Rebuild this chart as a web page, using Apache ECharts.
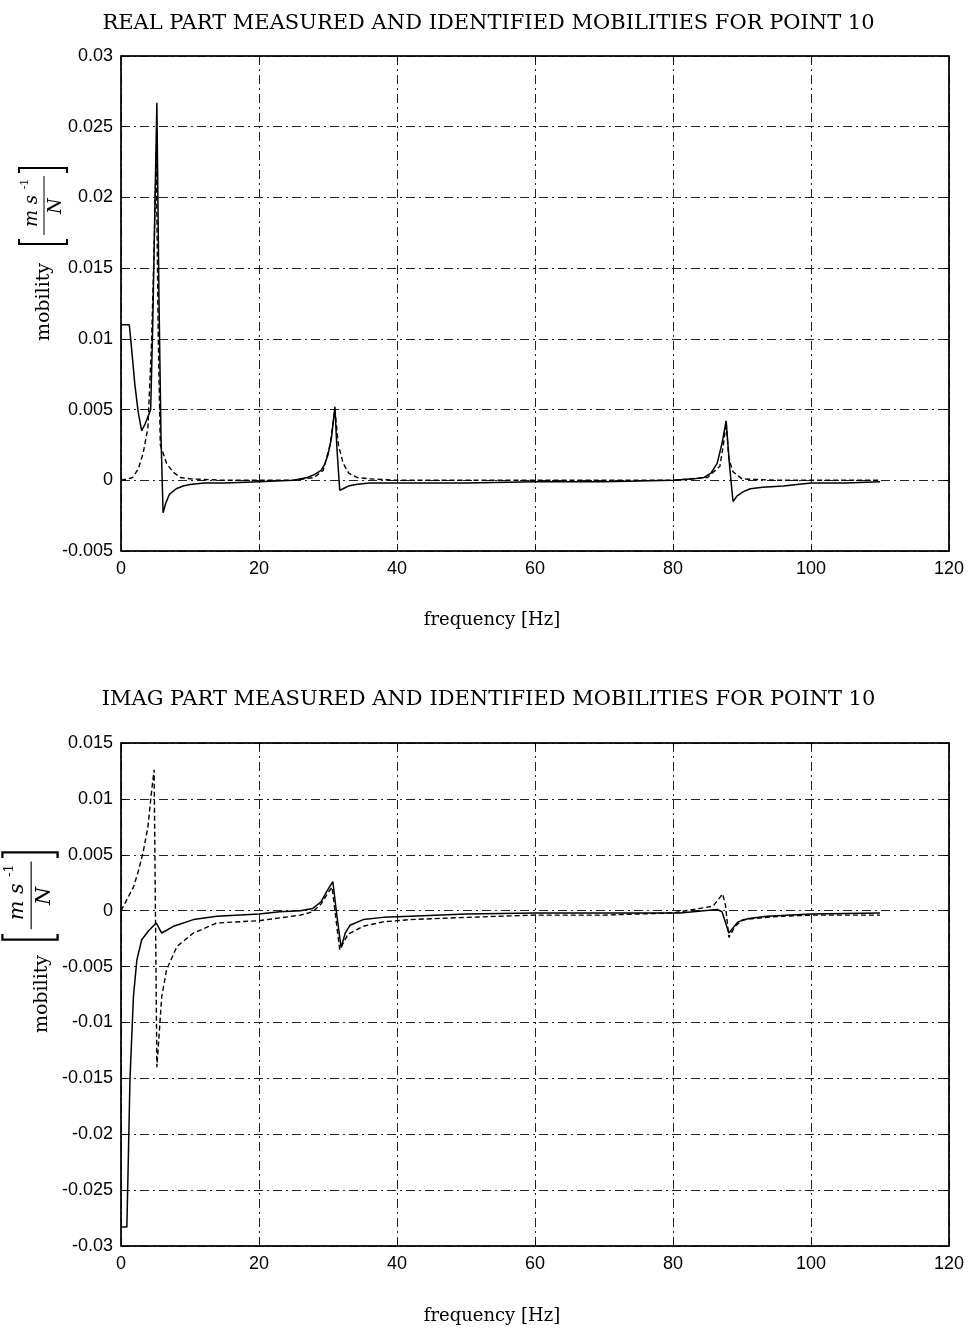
<!DOCTYPE html>
<html>
<head>
<meta charset="utf-8">
<script src="https://cdn.jsdelivr.net/npm/echarts@6/dist/echarts.min.js"></script>
<style>
  html, body { margin: 0; padding: 0; background: #fff; }
  #chart { width: 977px; height: 1332px; }
</style>
</head>
<body>
<div id="chart"></div>
<script>
// ---- data ----
const titleReal = "REAL PART MEASURED AND IDENTIFIED MOBILITIES FOR POINT 10";
const titleImag = "IMAG PART MEASURED AND IDENTIFIED MOBILITIES FOR POINT 10";
const xName = "frequency [Hz]";

// real part, measured (solid)
const realMeasFreq = [0, 0.2, 1.2, 1.5, 2.0, 2.5, 3.0, 3.5, 4.0, 4.3, 4.6, 4.9, 5.2, 5.5, 5.8, 6.1, 6.5, 7, 8, 9, 10, 12, 15, 20, 25, 27, 28, 29, 29.5, 30, 30.5, 31.0, 31.3, 31.7, 32.2, 33, 34, 36, 40, 50, 60, 70, 80, 83, 84.5, 85.5, 86.4, 87.1, 87.7, 88.2, 88.7, 89.3, 90.2, 91.2, 93, 96, 100, 105, 110];
const realMeas = [0.011, 0.011, 0.011, 0.0095, 0.0068, 0.0048, 0.0035, 0.0040, 0.0046, 0.0050, 0.0110, 0.0190, 0.0267, 0.0130, 0.0030, -0.0023, -0.0016, -0.0010, -0.0006, -0.0004, -0.0003, -0.0002, -0.0002, -0.0001, 0.0000, 0.0002, 0.0004, 0.0007, 0.0011, 0.0018, 0.0030, 0.0052, 0.0022, -0.0007, -0.0006, -0.0004, -0.0003, -0.0002, -0.0002, -0.0002, -0.0001, -0.0001, 0.0000, 0.0001, 0.0002, 0.0005, 0.0012, 0.0026, 0.0042, 0.0010, -0.0015, -0.0011, -0.0008, -0.0006, -0.0005, -0.0004, -0.0002, -0.0002, -0.0001];

// real part, identified (dashed)
const realIdFreq = [0, 1, 1.7, 2.5, 3.2, 3.9, 4.4, 4.8, 5.1, 5.4, 5.7, 6.6, 7.5, 8.6, 10, 15, 25, 28, 29.3, 30.3, 31.0, 31.5, 32.2, 33, 34.2, 36, 40, 80, 85, 86.8, 87.3, 87.7, 88.1, 88.7, 90, 95, 110];
const realId = [0, 0.0001, 0.0002, 0.0008, 0.0019, 0.0037, 0.0094, 0.0164, 0.0232, 0.0100, 0.0025, 0.0012, 0.0006, 0.0002, 0.0001, 0, 0, 0.0002, 0.0007, 0.0025, 0.0050, 0.0025, 0.0012, 0.0005, 0.0002, 0.0001, 0, 0, 0.0002, 0.0010, 0.0025, 0.0041, 0.0015, 0.0006, 0.0001, 0, 0];

// imaginary part, measured (solid)
const imagMeasFreq = [0, 0.85, 1.0, 1.3, 1.8, 2.3, 3.0, 4.0, 5.1, 5.9, 7.6, 10.5, 13.9, 20, 23, 26, 27.8, 29, 29.8, 30.7, 31.3, 31.9, 32.5, 33.2, 35.1, 38, 41.9, 50, 60, 70, 81, 86.4, 87.1, 88.1, 89.4, 91, 93.6, 100, 110];
const imagMeas = [-0.0283, -0.0283, -0.024, -0.0151, -0.0077, -0.0044, -0.0026, -0.0018, -0.0011, -0.0020, -0.0014, -0.0008, -0.0005, -0.0003, -0.0001, 0.0000, 0.0002, 0.0008, 0.0017, 0.0026, -0.0005, -0.0033, -0.0020, -0.0013, -0.0008, -0.0006, -0.0005, -0.0003, -0.0002, -0.0002, -0.0002, 0.0001, -0.0001, -0.0020, -0.0010, -0.0007, -0.0005, -0.0003, -0.0002];

// imaginary part, identified (dashed)
const imagIdFreq = [0, 1.8, 2.5, 3.2, 3.9, 4.4, 4.8, 5.2, 5.9, 6.6, 8.1, 10.5, 13.9, 20, 26, 27.8, 29, 30, 30.6, 31.1, 31.7, 32.9, 35.1, 38, 41.9, 50, 60, 70, 80, 85.8, 87.2, 87.6, 88.1, 89, 90.1, 95.5, 100, 110];
const imagId = [0, 0.0021, 0.0035, 0.0052, 0.0075, 0.0105, 0.0126, -0.0140, -0.0077, -0.0053, -0.0032, -0.0020, -0.0011, -0.0009, -0.0004, -0.0001, 0.0006, 0.0016, 0.0021, -0.0005, -0.0035, -0.0021, -0.0014, -0.0010, -0.0008, -0.0006, -0.0004, -0.0004, -0.0002, 0.0004, 0.0015, 0.0005, -0.0024, -0.0014, -0.0008, -0.0005, -0.0004, -0.0004];

const freqRange = [0, 120, 20];          // min, max, step
const realRange = [-0.005, 0.03, 0.005];
const imagRange = [-0.03, 0.015, 0.005];

const pairs = (xs, ys) => xs.map((x, i) => [x, ys[i]]);

const serif = '"DejaVu Serif", "Liberation Serif", serif';
const sans = '"Liberation Sans", Arial, sans-serif';
const gridDash = [9, 4, 2, 4];

function xAxes(gi) {
  return [
    {
      type: "value", gridIndex: gi, position: "bottom",
      min: freqRange[0], max: freqRange[1], interval: freqRange[2],
      axisLine: { onZero: false, lineStyle: { color: "#000", width: 1.5 } },
      axisTick: { inside: true, length: 5, lineStyle: { color: "#000" } },
      axisLabel: { fontFamily: sans, fontSize: 18, color: "#000", margin: 9 },
      splitLine: { show: true, lineStyle: { color: "#222", width: 1, type: gridDash } },
    },
    {
      type: "value", gridIndex: gi, position: "top",
      min: freqRange[0], max: freqRange[1], interval: freqRange[2],
      axisLine: { onZero: false, lineStyle: { color: "#000", width: 1.5 } },
      axisTick: { inside: true, length: 5, lineStyle: { color: "#000" } },
      axisLabel: { show: false },
      splitLine: { show: false },
    },
  ];
}

function yAxes(gi, r) {
  return [
    {
      type: "value", gridIndex: gi, position: "left",
      min: r[0], max: r[1], interval: r[2],
      axisLine: { onZero: false, lineStyle: { color: "#000", width: 1.5 } },
      axisTick: { inside: true, length: 5, lineStyle: { color: "#000" } },
      axisLabel: { fontFamily: sans, fontSize: 18, color: "#000", margin: 8 },
      splitLine: { show: true, lineStyle: { color: "#222", width: 1, type: gridDash } },
    },
    {
      type: "value", gridIndex: gi, position: "right",
      min: r[0], max: r[1], interval: r[2],
      axisLine: { onZero: false, lineStyle: { color: "#000", width: 1.5 } },
      axisTick: { inside: true, length: 5, lineStyle: { color: "#000" } },
      axisLabel: { show: false },
      splitLine: { show: false },
    },
  ];
}

function line(name, data, xi, yi, dashed) {
  return {
    name, type: "line", data, xAxisIndex: xi, yAxisIndex: yi,
    showSymbol: false, symbol: "none", clip: true,
    lineStyle: { color: "#000", width: dashed ? 1.4 : 1.5, type: dashed ? [5, 3] : "solid" },
  };
}

// rotated "mobility [m s^-1 / N]" label
function unitLabel(cx, cy, wx, wy, s) {
  const font = (sz, it) => (it ? "italic " : "") + sz + "px " + serif;
  return [
    {
      type: "text", x: wx, y: wy, rotation: Math.PI / 2,
      style: { text: "mobility", font: font(19), fill: "#000", align: "center", verticalAlign: "middle" },
    },
    {
      type: "group", x: cx, y: cy, rotation: Math.PI / 2, scaleX: s, scaleY: s,
      children: [
        { type: "text", x: -5, y: -11, style: { text: "m s", font: font(18, true), fill: "#000", align: "center", verticalAlign: "middle" } },
        { type: "text", x: 22, y: -18, style: { text: "-1", font: font(11), fill: "#000", align: "center", verticalAlign: "middle" } },
        { type: "line", shape: { x1: -29, y1: 1, x2: 30, y2: 1 }, style: { stroke: "#000", lineWidth: 1 } },
        { type: "text", x: 0, y: 13, style: { text: "N", font: font(18, true), fill: "#000", align: "center", verticalAlign: "middle" } },
        { type: "polyline", shape: { points: [[-33, -24], [-38, -24], [-38, 24], [-33, 24]] }, style: { stroke: "#000", lineWidth: 2, fill: null } },
        { type: "polyline", shape: { points: [[33, -24], [38, -24], [38, 24], [33, 24]] }, style: { stroke: "#000", lineWidth: 2, fill: null } },
      ],
    },
  ];
}

function xLabel(y) {
  return {
    type: "text", x: 492, y,
    style: { text: xName, font: "18px " + serif, fill: "#000", align: "center", verticalAlign: "middle" },
  };
}

const chart = echarts.init(document.getElementById("chart"));

chart.setOption({
  animation: false,
  backgroundColor: "#fff",
  title: [
    { text: titleReal, left: "center", top: 8, textStyle: { fontFamily: serif, fontSize: 21, fontWeight: "normal", color: "#000" } },
    { text: titleImag, left: "center", top: 684, textStyle: { fontFamily: serif, fontSize: 21, fontWeight: "normal", color: "#000" } },
  ],
  grid: [
    { left: 121, right: 28, top: 56, height: 495, show: true, borderColor: "#000", borderWidth: 1 },
    { left: 121, right: 28, top: 743, height: 503, show: true, borderColor: "#000", borderWidth: 1 },
  ],
  xAxis: [...xAxes(0), ...xAxes(1)],
  yAxis: [...yAxes(0, realRange), ...yAxes(1, imagRange)],
  series: [
    line("real measured", pairs(realMeasFreq, realMeas), 0, 0, false),
    line("real identified", pairs(realIdFreq, realId), 0, 0, true),
    line("imag measured", pairs(imagMeasFreq, imagMeas), 2, 2, false),
    line("imag identified", pairs(imagIdFreq, imagId), 2, 2, true),
  ],
  graphic: [
    ...unitLabel(43, 206, 44, 302, 1),
    ...unitLabel(30, 896, 42, 994, 1.15),
    xLabel(620),
    xLabel(1316),
  ],
});
</script>
</body>
</html>
